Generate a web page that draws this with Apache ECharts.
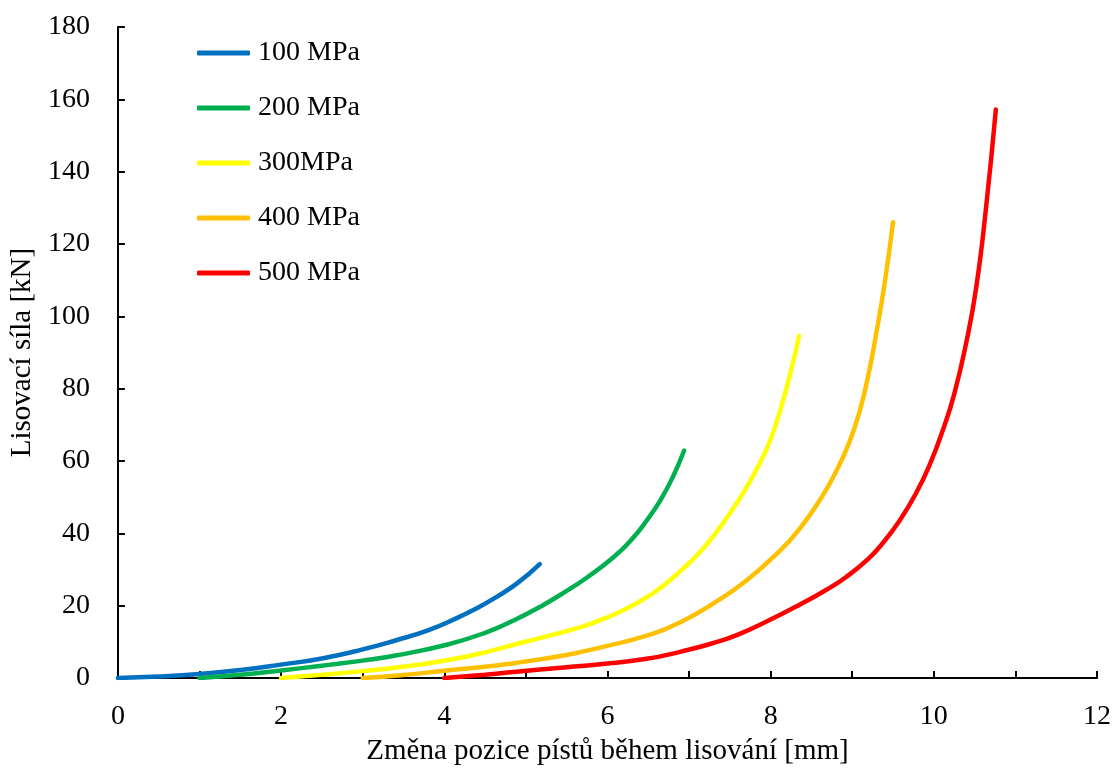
<!DOCTYPE html>
<html>
<head>
<meta charset="utf-8">
<script src="https://cdn.jsdelivr.net/npm/echarts@6/dist/echarts.min.js"></script>
<style>html,body{margin:0;padding:0;background:#fff}#c{width:1114px;height:771px}</style>
</head>
<body>
<div id="c"></div>
<script>
const seriesNames = ['100 MPa', '200 MPa', '300MPa', '400 MPa', '500 MPa'];
const seriesColors = ['#0070C0', '#00B050', '#FFFF00', '#FFC000', '#FF0000'];

const s100 = [[0,0],[0.5,0.4],[1,1.1],[1.5,2.2],[2,3.7],[2.5,5.4],[3,7.9],[3.42,10.5],[3.8,13.2],[4.1,16.0],[4.4,19.3],[4.64,22.4],[4.9,26.3],[5.17,31.5]];
const s200 = [[1,0],[1.5,0.9],[2,2.1],[2.5,3.4],[3,4.8],[3.42,6.3],[4.03,9.2],[4.5,12.5],[4.85,15.9],[5.2,20.0],[5.5,24.1],[5.75,27.8],[6.07,33.3],[6.3,38.4],[6.48,43.5],[6.65,49.2],[6.8,55.5],[6.94,62.9]];
const s300 = [[2,0],[2.5,0.9],[3,1.9],[3.42,2.9],[4.03,4.9],[4.5,7.1],[4.85,9.2],[5.3,11.8],[5.66,14.0],[5.91,16.0],[6.2,18.8],[6.48,22.3],[6.7,25.8],[6.89,29.5],[7.1,34],[7.29,39],[7.5,45.5],[7.7,52.5],[7.87,59.5],[8.0,66],[8.13,75],[8.25,85],[8.35,94.6]];
const s400 = [[3,0],[3.5,0.8],[4.03,2.1],[4.5,3.1],[4.85,4.1],[5.3,5.6],[5.66,7.1],[5.91,8.4],[6.48,11.7],[6.9,15.5],[7.29,20.5],[7.7,26.9],[8.11,35.1],[8.35,41.1],[8.62,49.8],[8.8,57],[8.97,65.5],[9.1,74.5],[9.2,84],[9.3,96],[9.4,109.5],[9.5,126]];
const s500 = [[4,0],[4.5,0.9],[4.85,1.65],[5.5,3.0],[5.91,3.8],[6.48,5.3],[6.9,7.3],[7.29,9.6],[7.6,12.0],[7.95,15.6],[8.35,20.2],[8.7,24.6],[8.93,28],[9.2,33],[9.37,37.2],[9.58,43.5],[9.78,51],[9.95,59],[10.11,68.5],[10.25,78.5],[10.4,93],[10.52,108],[10.64,130],[10.76,157.2]];
const allData = [s100, s200, s300, s400, s500];

const xMin = 0, xMax = 12, xInterval = 1;
const yMin = 0, yMax = 180, yInterval = 20;
const xAxisName = 'Změna pozice pístů během lisování [mm]';
const yAxisName = 'Lisovací síla [kN]';

const FONT = "'Liberation Serif', 'Times New Roman', serif";
const chart = echarts.init(document.getElementById('c'), null, {renderer: 'canvas'});
chart.setOption({
  animation: false,
  backgroundColor: '#fff',
  textStyle: {fontFamily: FONT},
  grid: {left: 117, right: 16, top: 27, bottom: 90, containLabel: false},
  legend: {
    orient: 'vertical', left: 197, top: 39, padding: 0,
    itemWidth: 53, itemHeight: 5, itemGap: 27,
    icon: 'roundRect',
    textStyle: {fontFamily: FONT, fontSize: 28, color: '#000', lineHeight: 28, padding: [0,0,0,3]},
    data: seriesNames
  },
  xAxis: {
    type: 'value', min: xMin, max: xMax, interval: xInterval,
    name: xAxisName, nameLocation: 'middle', nameGap: 59,
    nameTextStyle: {fontFamily: FONT, fontSize: 29, color: '#000'},
    axisLine: {show: true, onZero: false, lineStyle: {color: '#000', width: 2}},
    axisTick: {show: true, inside: true, length: 7, lineStyle: {color: '#000', width: 2}},
    axisLabel: {fontFamily: FONT, fontSize: 28, color: '#000', margin: 25,
      formatter: v => (Math.round(v) % 2 === 0 ? String(v) : '')},
    splitLine: {show: false}
  },
  yAxis: {
    type: 'value', min: yMin, max: yMax, interval: yInterval,
    name: yAxisName, nameLocation: 'middle', nameGap: 77,
    nameTextStyle: {fontFamily: FONT, fontSize: 29, color: '#000'},
    axisLine: {show: true, lineStyle: {color: '#000', width: 2}},
    axisTick: {show: true, inside: true, length: 7, lineStyle: {color: '#000', width: 2}},
    axisLabel: {fontFamily: FONT, fontSize: 28, color: '#000', margin: 28},
    splitLine: {show: false}
  },
  series: seriesNames.map((n, i) => ({
    name: n, type: 'line', data: allData[i],
    showSymbol: false, symbol: 'none',
    smooth: 0.5,
    itemStyle: {color: seriesColors[i]},
    lineStyle: {color: seriesColors[i], width: 4.5, cap: 'round', join: 'round'},
    z: 2 + i
  }))
});
</script>
</body>
</html>
